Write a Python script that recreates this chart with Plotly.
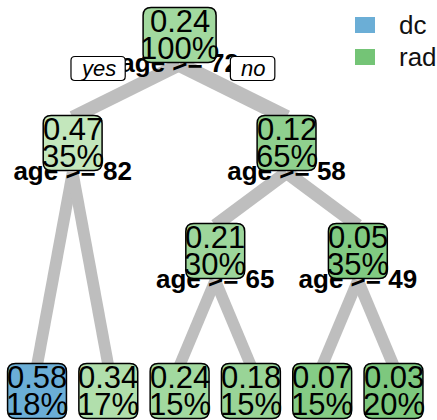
import plotly.graph_objects as go

# ---- tree data (rpart-style node numbering: children of n are 2n and 2n+1) ----
node_ids = [1, 2, 3, 4, 5, 6, 7, 12, 13, 14, 15]
node_value = [0.24, 0.47, 0.12, 0.58, 0.34, 0.21, 0.05, 0.24, 0.18, 0.07, 0.03]  # fraction "dc"
node_pct = [100, 35, 65, 18, 17, 30, 35, 15, 15, 15, 20]
split_nodes = [1, 2, 3, 6, 7]
split_labels = ["age >= 72", "age >= 82", "age >= 58", "age >= 65", "age >= 49"]
class_names = ["dc", "rad"]

# ---- styling ----
W, H = 437, 420
FONT = "Liberation Sans, Arial, sans-serif"
NODE_FONT = "Liberation Sans Narrow, Arial Narrow, Liberation Sans, sans-serif"
FS = 31
LAB_FS = 26
LEG_FS = 26
BLUE = (107, 174, 214)
GREEN_DARK = (116, 196, 118)
GREEN_LIGHT = (199, 233, 192)
BRANCH = "#bebebe"

# advance widths (em) for the narrow node font and the regular tag font
EM_NARROW = {".": .228, "%": .729}
EM_REG = {"y": .5, "e": .556, "s": .5, "n": .556, "o": .556}


def text_w(s, fs, em, default):
    return sum(em.get(c, default) for c in s) * fs


def rgb(c):
    return "rgb(%d,%d,%d)" % c


def fill_for(v):
    if v >= 0.5:
        return rgb(BLUE)
    t = min(v / 0.5, 1.0) ** 0.8
    return rgb(tuple(round(a + t * (b - a)) for a, b in zip(GREEN_DARK, GREEN_LIGHT)))


def rrect(x0, y0, x1, y1, r):
    return (f"M{x0+r},{y0} L{x1-r},{y0} Q{x1},{y0} {x1},{y0+r} L{x1},{y1-r} "
            f"Q{x1},{y1} {x1-r},{y1} L{x0+r},{y1} Q{x0},{y1} {x0},{y1-r} "
            f"L{x0},{y0+r} Q{x0},{y0} {x0+r},{y0} Z")


# ---- layout of the tree ----
ids = set(node_ids)
val = dict(zip(node_ids, node_value))
pct = dict(zip(node_ids, node_pct))


def children(n):
    return [c for c in (2 * n, 2 * n + 1) if c in ids]


def inorder_leaves(n):
    ch = children(n)
    if not ch:
        return [n]
    return [l for c in ch for l in inorder_leaves(c)]


leaves = inorder_leaves(1)
LEAF_X0, LEAF_DX = 37, 71.3
pos_x = {}
for i, l in enumerate(leaves):
    pos_x[l] = LEAF_X0 + i * LEAF_DX


def place(n):
    ch = children(n)
    if ch:
        for c in ch:
            place(c)
        pos_x[n] = sum(pos_x[c] for c in ch) / len(ch)


place(1)

TOP_Y, DY, LEAF_Y = 35, 108, 391
BOX_H = 55
pos_y = {}
for n in node_ids:
    depth = n.bit_length() - 1
    pos_y[n] = LEAF_Y if not children(n) else TOP_Y + depth * DY

shapes = []
annotations = []

# branches: from the split label down to the top of each child box
for n in split_nodes:
    ly = pos_y[n] + BOX_H / 2 + 2
    for c in children(n):
        w = 8 + 9 * (pct[c] / 100) ** 0.5
        shapes.append(dict(type="line", layer="below", x0=pos_x[n], y0=ly,
                           x1=pos_x[c], y1=pos_y[c] - BOX_H / 2 + 2,
                           line=dict(color=BRANCH, width=w)))

# node boxes and their two text lines
for n in node_ids:
    t1 = f"{val[n]:.2f}"
    t2 = f"{pct[n]}%"
    bw = max(text_w(t1, FS, EM_NARROW, .456), text_w(t2, FS, EM_NARROW, .456)) + 8
    x, y = pos_x[n], pos_y[n]
    shapes.append(dict(type="path", layer="above",
                       path=rrect(x - bw / 2, y - BOX_H / 2, x + bw / 2, y + BOX_H / 2, 8),
                       fillcolor=fill_for(val[n]), line=dict(color="black", width=1.5)))
    for txt, dy in ((t1, -14), (t2, 13)):
        annotations.append(dict(x=x, y=y + dy, xref="x", yref="y", text=txt,
                                showarrow=False, xanchor="center", yanchor="middle",
                                font=dict(family=NODE_FONT, size=FS, color="black")))

# yes / no tags beside the root split
YN_FS = 22
root_ly = pos_y[1] + BOX_H / 2 + 6
for txt, cx in (("yes", pos_x[1] - 81.5), ("no", pos_x[1] + 73)):
    bw = text_w(txt, YN_FS, EM_REG, .556) + 20
    shapes.append(dict(type="path", layer="above",
                       path=rrect(cx - bw / 2, root_ly - 12, cx + bw / 2, root_ly + 12, 4),
                       fillcolor="white", line=dict(color="black", width=1.2)))
    annotations.append(dict(x=cx, y=root_ly, xref="x", yref="y", text=f"<i>{txt}</i>",
                            showarrow=False, xanchor="center", yanchor="middle",
                            font=dict(family=FONT, size=YN_FS, color="black")))

# legend
for i, (name, col) in enumerate(zip(class_names, (BLUE, GREEN_DARK))):
    cy = 25 + i * 32
    shapes.append(dict(type="rect", layer="above", x0=355, x1=375, y0=cy - 8, y1=cy + 8,
                       fillcolor=rgb(col), line=dict(width=0)))
    annotations.append(dict(x=397, y=cy, xref="x", yref="y", text=name, showarrow=False,
                            xanchor="left", yanchor="middle",
                            font=dict(family=FONT, size=LEG_FS, color="#111111")))

fig = go.Figure()
fig.add_trace(go.Scatter(
    x=[pos_x[n] for n in split_nodes],
    y=[pos_y[n] + BOX_H / 2 + 3 for n in split_nodes],
    mode="text",
    text=[f"<b>{s}</b>" for s in split_labels],
    textposition="middle center",
    textfont=dict(family=FONT, size=LAB_FS, color="black"),
    hoverinfo="skip", showlegend=False,
))

fig.update_layout(
    width=W, height=H, margin=dict(l=0, r=0, t=0, b=0),
    paper_bgcolor="white", plot_bgcolor="white",
    xaxis=dict(range=[0, W], visible=False, fixedrange=True),
    yaxis=dict(range=[H, 0], visible=False, fixedrange=True),
    shapes=shapes, annotations=annotations, showlegend=False,
)

fig.write_html("out.html")
